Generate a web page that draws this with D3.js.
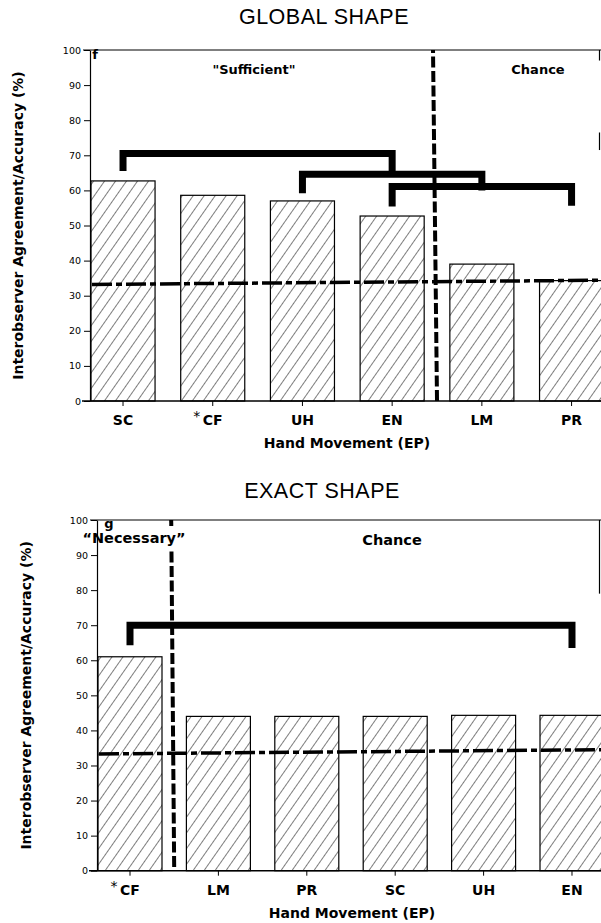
<!DOCTYPE html>
<html>
<head>
<meta charset="utf-8">
<script src="https://cdn.jsdelivr.net/npm/d3@7"></script>
<style>
  html, body { margin: 0; padding: 0; background: #fff; }
  svg { display: block; }
</style>
</head>
<body>
<svg id="chart" width="601" height="923"></svg>
<script>
// ---------- DATA ----------
const topTitle = "GLOBAL SHAPE";
const topCats = ["SC", "*CF", "UH", "EN", "LM", "PR"];
const topValues = [62.7, 58.6, 57.0, 52.7, 39.0, 34.3];
const topBrackets = [
  { from: "SC", to: "EN", level: 70.5, legLeft: 65.5, legRight: 64.6 },
  { from: "UH", to: "LM", level: 64.6, legLeft: 59.2, legRight: 60.0 },
  { from: "EN", to: "PR", level: 61.1, legLeft: 55.4, legRight: 55.6 }
];
const topChance = [33.2, 34.4];          // chance level at left / right end
const topSplitAfter = "EN";               // vertical dashed divider
const topRegions = ["\"Sufficient\"", "Chance"];
const topPanelLetter = "f";

const bottomTitle = "EXACT SHAPE";
const bottomCats = ["*CF", "LM", "PR", "SC", "UH", "EN"];
const bottomValues = [61.0, 44.0, 44.0, 44.0, 44.3, 44.3];
const bottomBrackets = [
  { from: "*CF", to: "EN", level: 70.0, legLeft: 64.3, legRight: 63.5 }
];
const bottomChance = [33.3, 34.5];
const bottomSplitAfter = "*CF";
const bottomRegions = ["\u201CNecessary\u201D", "Chance"];
const bottomPanelLetter = "g";

const yTicks = [0, 10, 20, 30, 40, 50, 60, 70, 80, 90, 100];
const yLabel = "Interobserver Agreement/Accuracy (%)";
const xLabel = "Hand Movement (EP)";

// ---------- DRAW ----------
const svg = d3.select("#chart");
svg.append("rect").attr("width", 601).attr("height", 923).attr("fill", "#fff");

const defs = svg.append("defs");
const pat = defs.append("pattern")
  .attr("id", "hatch").attr("patternUnits", "userSpaceOnUse")
  .attr("width", 9).attr("height", 9)
  .attr("patternTransform", "rotate(35)");
pat.append("line").attr("x1", 0).attr("y1", 0).attr("x2", 0).attr("y2", 9)
  .attr("stroke", "#111").attr("stroke-width", 1.1);

const boldFont = "'DejaVu Sans', sans-serif";

function panel(cfg) {
  const g = svg.append("g");
  const y = d3.scaleLinear().domain([0, 100]).range([cfg.y0, cfg.y100]);
  const x = d3.scaleBand().domain(cfg.cats).range(cfg.xRange)
    .paddingInner(cfg.pad).paddingOuter(0);
  const cx = c => x(c) + x.bandwidth() / 2;

  // title
  g.append("text").attr("x", cfg.titleX).attr("y", cfg.titleY)
    .attr("text-anchor", "middle")
    .style("font-family", "'Liberation Sans', Arial, sans-serif")
    .style("font-size", "21.5px").style("letter-spacing", "0.5px")
    .text(cfg.title);

  // bars
  g.selectAll("rect.bar").data(cfg.cats.map((c, i) => ({ c, v: cfg.values[i] })))
    .join("rect").attr("class", "bar")
    .attr("x", d => x(d.c)).attr("width", x.bandwidth())
    .attr("y", d => y(d.v)).attr("height", d => y(0) - y(d.v))
    .attr("fill", "url(#hatch)").attr("stroke", "#000").attr("stroke-width", 1.2);

  // frame: top line + partial right border
  g.append("line").attr("x1", cfg.axisX - 7).attr("x2", 601)
    .attr("y1", y(100)).attr("y2", y(100)).attr("stroke", "#000").attr("stroke-width", 1.2);
  cfg.rightBorder.forEach(seg => {
    g.append("line").attr("x1", 599.5).attr("x2", 599.5)
      .attr("y1", y(seg[0])).attr("y2", y(seg[1]))
      .attr("stroke", "#000").attr("stroke-width", 1.2);
  });

  // y axis
  const ya = g.append("g").attr("transform", `translate(${cfg.axisX},0)`)
    .call(d3.axisLeft(y).tickValues(yTicks).tickSize(6).tickSizeOuter(0).tickPadding(3));
  ya.select(".domain").attr("stroke-width", 1.2);
  ya.selectAll("text").style("font-family", "'DejaVu Sans', sans-serif")
    .style("font-size", "9.5px").attr("fill", "#000");

  // x axis baseline + ticks
  g.append("line").attr("x1", cfg.axisX - 8).attr("x2", 601)
    .attr("y1", y(0)).attr("y2", y(0)).attr("stroke", "#000").attr("stroke-width", 1.5);
  const xa = g.append("g").attr("transform", `translate(0,${y(0)})`)
    .call(d3.axisBottom(x).tickSize(5).tickSizeOuter(0).tickPadding(9)
      .tickFormat(d => d.replace("*", "")));
  xa.select(".domain").remove();
  xa.selectAll("text").style("font-family", boldFont).style("font-weight", "bold")
    .style("font-size", "14px").attr("fill", "#000");
  // asterisks
  cfg.cats.filter(c => c.startsWith("*")).forEach(c => {
    g.append("text").attr("x", cx(c) - 16).attr("y", y(0) + 20)
      .attr("text-anchor", "middle")
      .style("font-family", boldFont).style("font-size", "14px")
      .text("*");
  });

  // x axis title
  g.append("text").attr("x", cfg.xTitleX).attr("y", cfg.xTitleY)
    .attr("text-anchor", "middle")
    .style("font-family", boldFont).style("font-weight", "bold").style("font-size", "14px")
    .text(xLabel);

  // y axis title
  g.append("text")
    .attr("transform", `translate(${cfg.yTitleX},${(y(0) + y(100)) / 2}) rotate(-90)`)
    .attr("text-anchor", "middle").attr("dy", "0.35em")
    .style("font-family", boldFont).style("font-weight", "bold").style("font-size", "14px")
    .text(yLabel);

  // chance line (dash-dot)
  g.append("line")
    .attr("x1", cfg.axisX + 2).attr("x2", 601)
    .attr("y1", y(cfg.chance[0])).attr("y2", y(cfg.chance[1]))
    .attr("stroke", "#000").attr("stroke-width", 3.5)
    .attr("stroke-dasharray", "20,4,6,4");

  // vertical divider
  const split = x(cfg.splitAfter) + x.bandwidth() + (x.step() - x.bandwidth()) / 2;
  cfg.splitSegs.forEach(seg => {
    g.append("line")
      .attr("x1", split - cfg.splitTilt * (seg[0] - 0) / 100).attr("x2", split - cfg.splitTilt * (seg[1]) / 100)
      .attr("y1", y(seg[0])).attr("y2", y(seg[1]))
      .attr("stroke", "#000").attr("stroke-width", 4)
      .attr("stroke-dasharray", "11,3.5");
  });

  // brackets
  const line = d3.line();
  cfg.brackets.forEach(b => {
    g.append("path")
      .attr("d", line([[cx(b.from), y(b.legLeft)], [cx(b.from), y(b.level)],
                       [cx(b.to), y(b.level)], [cx(b.to), y(b.legRight)]]))
      .attr("fill", "none").attr("stroke", "#000").attr("stroke-width", 7)
      .attr("stroke-linejoin", "miter").attr("stroke-linecap", "butt");
  });

  // region labels
  g.append("text").attr("x", cfg.letterPos[0]).attr("y", cfg.letterPos[1])
    .attr("text-anchor", "middle")
    .style("font-family", boldFont).style("font-weight", "bold").style("font-size", "13px")
    .text(cfg.letter);
  cfg.regions.forEach((t, i) => {
    g.append("text").attr("x", cfg.regionPos[i][0]).attr("y", cfg.regionPos[i][1])
      .attr("text-anchor", "middle")
      .style("font-family", boldFont).style("font-weight", "bold")
      .style("font-size", cfg.regionSize + "px")
      .text(t);
  });
}

panel({
  title: topTitle, titleX: 324, titleY: 24,
  cats: topCats, values: topValues, brackets: topBrackets, chance: topChance,
  splitAfter: topSplitAfter, splitSegs: [[0, 100]], splitTilt: 4,
  y0: 401, y100: 50, xRange: [91, 603.6], pad: 0.286, axisX: 90,
  rightBorder: [[100, 97], [76.5, 71.5]],
  xTitleX: 347, xTitleY: 448, yTitleX: 18,
  letter: topPanelLetter, letterPos: [95, 59],
  regions: topRegions, regionPos: [[254, 74], [538, 74]], regionSize: 13
});

panel({
  title: bottomTitle, titleX: 322, titleY: 498,
  cats: bottomCats, values: bottomValues, brackets: bottomBrackets, chance: bottomChance,
  splitAfter: bottomSplitAfter, splitSegs: [[100, 98.3], [91, 0]], splitTilt: 3,
  y0: 870.7, y100: 520, xRange: [98, 604], pad: 0.276, axisX: 97,
  rightBorder: [[100, 79]],
  xTitleX: 352, xTitleY: 918, yTitleX: 26,
  letter: bottomPanelLetter, letterPos: [109, 528],
  regions: bottomRegions, regionPos: [[134, 543], [392, 545]], regionSize: 14.5
});
</script>
</body>
</html>
